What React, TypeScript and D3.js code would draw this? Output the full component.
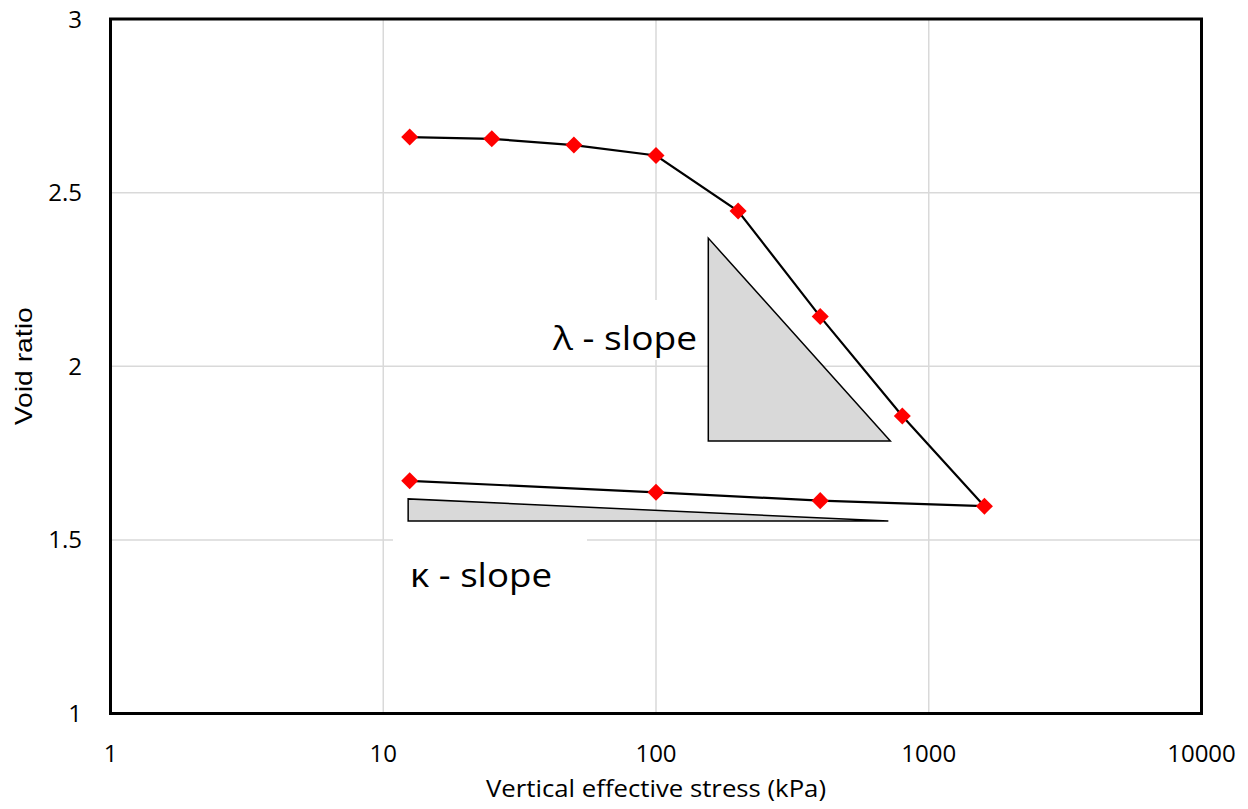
import React from "react";
import * as d3 from "d3";

const loadStress = [12.5, 25, 50, 100, 200, 400, 800, 1600];
const loadVoid = [2.66, 2.655, 2.637, 2.607, 2.447, 2.143, 1.857, 1.597];
const unloadStress = [1600, 400, 100, 12.5];
const unloadVoid = [1.597, 1.613, 1.637, 1.67];

const lambdaTriX = [155.5, 155.5, 723];
const lambdaTriY = [2.369, 1.785, 1.785];
const kappaTriX = [12.34, 12.34, 711];
const kappaTriY = [1.618, 1.554, 1.554];

const xTicks = [1, 10, 100, 1000, 10000];
const yTicks = [1, 1.5, 2, 2.5, 3];
const xTickLabels = ["1", "10", "100", "1000", "10000"];
const yTickLabels = ["1", "1.5", "2", "2.5", "3"];

const W = 1248;
const H = 809;
const L = 110.5, R = 1201.5, T = 19, B = 713.5;

export default function App() {
  const x = d3.scaleLog().domain([1, 10000]).range([L, R]);
  const y = d3.scaleLinear().domain([1, 3]).range([B, T]);
  const line = d3
    .line<[number, number]>()
    .x((d) => x(d[0]))
    .y((d) => y(d[1]));
  const loadPts: [number, number][] = loadStress.map((s, i) => [s, loadVoid[i]]);
  const unloadPts: [number, number][] = unloadStress.map((s, i) => [s, unloadVoid[i]]);
  const lambdaPts: [number, number][] = lambdaTriX.map((s, i) => [s, lambdaTriY[i]]);
  const kappaPts: [number, number][] = kappaTriX.map((s, i) => [s, kappaTriY[i]]);
  const diamond = d3.symbol().type(d3.symbolDiamond2).size(185)() as string;
  const font = "'Open Sans', sans-serif";

  return (
    <svg
      width={W}
      height={H}
      style={{ position: "absolute", left: 0, top: 0, background: "#fff" }}
    >
      <rect x={0} y={0} width={W} height={H} fill="#fff" />
      {/* grid */}
      {xTicks.slice(1, -1).map((t) => (
        <line key={"gx" + t} x1={x(t)} x2={x(t)} y1={T} y2={B} stroke="#d9d9d9" strokeWidth={1.5} />
      ))}
      {yTicks.slice(1, -1).map((t) => (
        <line key={"gy" + t} x1={L} x2={R} y1={y(t)} y2={y(t)} stroke="#d9d9d9" strokeWidth={1.5} />
      ))}
      {/* label backgrounds */}
      <rect x={540} y={300} width={165} height={60} fill="#fff" />
      <rect x={393} y={530} width={194} height={80} fill="#fff" />
      {/* triangles */}
      <path d={line(lambdaPts) + "Z"} fill="#d9d9d9" stroke="#000" strokeWidth={1.5} />
      <path d={line(kappaPts) + "Z"} fill="#d9d9d9" stroke="#000" strokeWidth={1.5} />
      {/* labels */}
      <text
        x={697}
        y={350}
        textAnchor="end"
        fontFamily={font}
        fontSize={32}
        textLength={144}
        lengthAdjust="spacingAndGlyphs"
        fill="#000"
      >
        λ - slope
      </text>
      <text
        x={410}
        y={587}
        fontFamily={font}
        fontSize={32}
        textLength={142}
        lengthAdjust="spacingAndGlyphs"
        fill="#000"
      >
        κ - slope
      </text>
      {/* series lines */}
      <path d={line(loadPts) as string} fill="none" stroke="#000" strokeWidth={2.2} />
      <path d={line(unloadPts) as string} fill="none" stroke="#000" strokeWidth={2.2} />
      {loadPts.concat(unloadPts.slice(1)).map((p, i) => (
        <path key={"m" + i} d={diamond} transform={`translate(${x(p[0])},${y(p[1])})`} fill="#ff0000" />
      ))}
      {/* frame */}
      <rect x={L} y={T} width={R - L} height={B - T} fill="none" stroke="#000" strokeWidth={3} />
      {/* tick labels */}
      {xTicks.map((t, i) => (
        <text key={"xt" + t} x={x(t)} y={762} textAnchor="middle" fontFamily={font} fontSize={24} fill="#000">
          {xTickLabels[i]}
        </text>
      ))}
      {yTicks.map((t, i) => (
        <text key={"yt" + t} x={82} y={y(t) + 8.5} textAnchor="end" fontFamily={font} fontSize={24} fill="#000">
          {yTickLabels[i]}
        </text>
      ))}
      {/* axis titles */}
      <text
        x={(L + R) / 2}
        y={797}
        textAnchor="middle"
        fontFamily={font}
        fontSize={24}
        textLength={340}
        lengthAdjust="spacingAndGlyphs"
        fill="#000"
      >
        Vertical effective stress (kPa)
      </text>
      <text
        transform={`translate(32,${(T + B) / 2}) rotate(-90)`}
        textAnchor="middle"
        fontFamily="'Liberation Sans', Arial, sans-serif"
        fontSize={24}
        textLength={118}
        lengthAdjust="spacingAndGlyphs"
        fill="#000"
      >
        Void ratio
      </text>
    </svg>
  );
}
